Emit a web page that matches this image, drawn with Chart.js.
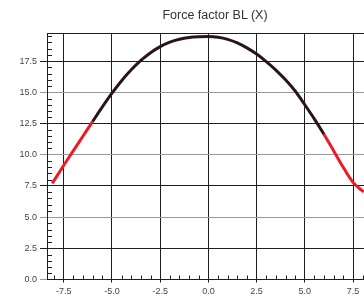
<!DOCTYPE html>
<html>
<head>
<meta charset="utf-8">
<script src="https://cdn.jsdelivr.net/npm/chart.js@4/dist/chart.umd.min.js"></script>
<style>
  html, body { margin: 0; padding: 0; background: #fff; }
  #wrap { position: relative; width: 364px; height: 296px; overflow: hidden; }
  #title { position: absolute; left: 115px; width: 200px; top: 7px; text-align: center;
           font-family: "Liberation Sans", Arial, sans-serif; font-size: 12.5px; color: #333; line-height: 16px; }
  canvas { position: absolute; left: 0; top: 0; }
</style>
</head>
<body>
<div id="wrap">
  <canvas id="c" width="364" height="296"></canvas>
  <div id="title">Force factor BL (X)</div>
</div>
<script>
// Data
const excursion = [-8.1, -7.5, -7, -6.5, -6, -5.5, -5, -4.5, -4, -3.5, -3, -2.5, -2, -1.5, -1, -0.5, 0,
                   0.5, 1, 1.5, 2, 2.5, 3, 3.5, 4, 4.5, 5, 5.5, 6, 6.5, 7, 7.5, 8.05];
const forceFactor = [7.7, 9.15, 10.33, 11.5, 12.67, 13.83, 14.93, 15.93, 16.8, 17.55, 18.17, 18.66, 19.02, 19.25, 19.39, 19.45, 19.47,
                     19.41, 19.24, 18.96, 18.56, 18.06, 17.46, 16.78, 16.0, 15.1, 14.0, 12.85, 11.62, 10.3, 8.97, 7.78, 7.02];
const xTicks = [-7.5, -5.0, -2.5, 0.0, 2.5, 5.0, 7.5];
const yTicks = [0.0, 2.5, 5.0, 7.5, 10.0, 12.5, 15.0, 17.5];
const safeLimit = 6; // beyond |x| > 6 the curve is red

const points = excursion.map((x, i) => ({ x: x, y: forceFactor[i] }));

const DARK = '#1e1e1e';
const GREY = '#9a9a9a';
const yGridColor = (v) => (Math.abs((v / 2.5) % 2) === 1 ? DARK : GREY);

const extras = {
  id: 'extras',
  afterDraw(chart) {
    const { ctx, chartArea: a, scales } = chart;
    const xs = scales.x, ys = scales.y;
    ctx.save();
    ctx.strokeStyle = DARK;
    ctx.lineWidth = 1;
    // top border
    ctx.beginPath();
    ctx.moveTo(a.left, Math.round(a.top) + 0.5);
    ctx.lineTo(a.right, Math.round(a.top) + 0.5);
    ctx.stroke();
    // y minor ticks
    ctx.beginPath();
    for (let v = 0.5; v < ys.max; v += 0.5) {
      if (Math.abs((v / 2.5) - Math.round(v / 2.5)) < 1e-6) continue;
      const py = Math.round(ys.getPixelForValue(v)) + 0.5;
      ctx.moveTo(a.left, py);
      ctx.lineTo(a.left + 5, py);
    }
    ctx.stroke();
    // x minor ticks
    ctx.beginPath();
    for (let v = -8.0; v <= xs.max; v += 0.5) {
      if (Math.abs((v / 2.5) - Math.round(v / 2.5)) < 1e-6) continue;
      const px = Math.round(xs.getPixelForValue(v)) + 0.5;
      ctx.moveTo(px, a.bottom);
      ctx.lineTo(px, a.bottom - 4);
    }
    ctx.stroke();
    ctx.restore();
  }
};

new Chart(document.getElementById('c'), {
  type: 'line',
  data: {
    datasets: [{
      data: points,
      borderWidth: 3,
      borderColor: '#2a1515',
      pointRadius: 0,
      cubicInterpolationMode: 'monotone',
      segment: {
        borderColor: (c) => (c.p0.parsed.x >= safeLimit || c.p1.parsed.x <= -safeLimit) ? '#ec1c24' : '#2a1515'
      }
    }]
  },
  options: {
    responsive: false,
    animation: false,
    layout: { padding: { top: 33, left: 0, right: 0, bottom: 0 } },
    plugins: { legend: { display: false }, tooltip: { enabled: false }, title: { display: false } },
    scales: {
      x: {
        type: 'linear',
        min: -8.37,
        max: 8.07,
        afterBuildTicks: (s) => { s.ticks = xTicks.map(v => ({ value: v })); },
        afterFit: (s) => { s.height = 16.5; },
        grid: { color: DARK, tickColor: DARK, lineWidth: 1, tickLength: 3, drawTicks: true },
        border: { color: DARK, width: 1 },
        ticks: {
          padding: 4,
          color: '#444',
          font: { family: '"Liberation Sans", Arial, sans-serif', size: 9 },
          callback: (v) => Number(v).toFixed(1),
          maxRotation: 0
        }
      },
      y: {
        type: 'linear',
        min: 0,
        max: 19.75,
        afterBuildTicks: (s) => { s.ticks = yTicks.map(v => ({ value: v })); },
        afterFit: (s) => { s.width = 47; },
        grid: {
          color: (c) => c.tick ? yGridColor(c.tick.value) : DARK,
          tickColor: (c) => c.tick ? yGridColor(c.tick.value) : DARK,
          lineWidth: 1, tickLength: 7, drawTicks: true
        },
        border: { color: DARK, width: 1 },
        ticks: {
          padding: 3,
          color: '#444',
          font: { family: '"Liberation Sans", Arial, sans-serif', size: 9 },
          callback: (v) => Number(v).toFixed(1)
        }
      }
    }
  },
  plugins: [extras]
});
</script>
</body>
</html>
